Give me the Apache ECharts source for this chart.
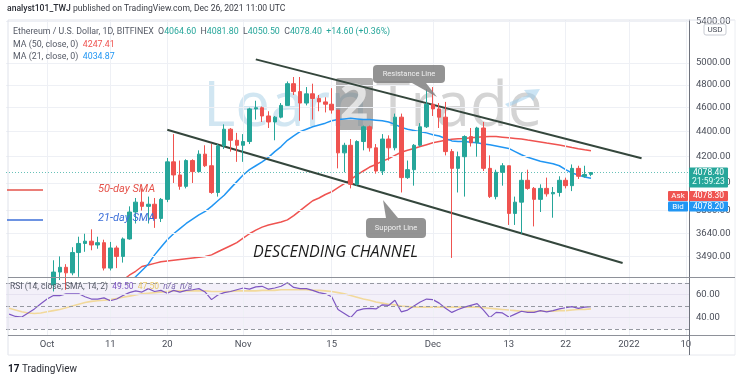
<!DOCTYPE html>
<html><head><meta charset="utf-8">
<script src="https://cdn.jsdelivr.net/npm/echarts@6/dist/echarts.min.js"></script>
<style>html,body{margin:0;padding:0;background:#fff}#c{width:740px;height:379px}</style>
</head><body><div id="c"></div>
<script>
// ---------- data ----------
const startDate = Date.UTC(2021, 8, 25);   // 2021-09-25
const dayCount = 108;                       // through 2022-01-10
const dates = [];
for (let i = 0; i < dayCount; i++) {
  dates.push(new Date(startDate + i * 86400000).toISOString().slice(0, 10));
}
const dateTickLabels = {
  '2021-10-01': 'Oct', '2021-10-11': '11', '2021-10-20': '20', '2021-11-01': 'Nov',
  '2021-11-15': '15', '2021-12-01': 'Dec', '2021-12-13': '13', '2021-12-22': '22',
  '2022-01-01': '2022', '2022-01-10': '10'
};
const opens = [2930,2925,3060,2930,2810,2850,3000,3310,3390,3420,
  3385,3515,3575,3590,3565,3580,3415,3545,3490,3605,
  3790,3860,3830,3845,3745,3880,4160,4060,3975,4170,
  4085,4220,4130,3930,4285,4420,4330,4290,4320,4590,
  4600,4530,4480,4520,4620,4810,4740,4640,4720,4680,
  4650,4630,4580,4230,4290,3990,4320,4440,4270,4090,
  4340,4270,4520,4040,4100,4290,4440,4630,4590,4520,
  4240,4110,4200,4360,4310,4430,4110,3900,4080,4130,
  3780,3860,4020,3960,3880,3960,3920,3930,4020,3980,
  4110,4050,4064.6];
const highs = [2970,3110,3160,3060,2960,3040,3350,3465,3490,3440,
  3550,3620,3640,3670,3620,3600,3585,3560,3615,3830,
  3890,3960,3900,3890,3890,4190,4380,4170,4180,4180,
  4250,4290,4300,4300,4460,4430,4390,4380,4600,4660,
  4610,4570,4530,4640,4830,4870,4870,4780,4810,4710,
  4690,4770,4580,4310,4340,4330,4450,4450,4300,4380,
  4370,4550,4550,4170,4300,4470,4760,4780,4640,4650,
  4260,4240,4370,4430,4440,4480,4210,4100,4150,4130,
  3900,4080,4100,3970,3990,4040,3970,4050,4040,4140,
  4130,4130,4081.8];
const lows = [2870,2740,2930,2800,2790,2840,2980,3270,3340,3280,
  3370,3360,3520,3530,3540,3400,3400,3415,3450,3600,
  3710,3800,3710,3680,3720,3860,4000,3950,3960,4000,
  4080,4120,3920,3900,4260,4240,4160,4160,4300,4500,
  4480,4430,4330,4510,4620,4710,4490,4620,4500,4570,
  4560,4550,4110,4080,3960,3980,4250,4240,4070,4060,
  4170,4250,3930,4030,3980,4280,4430,4530,4430,4210,
  3480,3930,3900,4280,4200,4090,3890,3880,3980,3700,
  3700,3640,3950,3690,3790,3900,3750,3900,3960,3940,
  4030,4040,4050.5];
const closes = [2925,3060,2930,2810,2850,3000,3310,3390,3420,3385,
  3515,3575,3590,3565,3580,3415,3545,3490,3605,3790,
  3860,3830,3845,3745,3880,4160,4060,3975,4170,4085,
  4220,4130,3930,4285,4420,4330,4290,4320,4590,4600,
  4530,4480,4520,4620,4810,4740,4640,4720,4680,4650,
  4630,4580,4230,4290,3990,4320,4440,4270,4090,4340,
  4270,4520,4040,4100,4290,4440,4630,4590,4520,4240,
  4110,4200,4360,4310,4430,4110,3900,4080,4130,3780,
  3860,4020,3960,3880,3960,3920,3930,4020,3980,4110,
  4050,4063.8,4078.4];
const ma50 = [null,null,null,null,null,null,null,null,null,null,
  null,null,null,null,null,null,null,3300,3340,3370,
  3395,3425,3435,3445,3455,3460,3465,3470,3475,3480,
  3485,3490,3500,3520,3540,3560,3580,3610,3640,3665,
  3685,3700,3710,3720,3735,3765,3800,3835,3870,3890,
  3915,3935,3965,3995,4025,4060,4090,4120,4140,4165,
  4185,4210,4235,4250,4265,4280,4295,4310,4320,4330,
  4338,4342,4345,4350,4355,4358,4360,4360,4355,4350,
  4345,4340,4332,4325,4317,4308,4300,4292,4283,4272,
  4263,4255,4247.41];
const ma21 = [null,null,null,null,null,null,null,null,null,null,
  null,null,null,null,null,null,null,3260,3290,3325,
  3360,3400,3440,3500,3550,3600,3640,3675,3710,3740,
  3770,3795,3830,3870,3910,3960,4010,4060,4100,4130,
  4160,4195,4240,4280,4330,4365,4400,4420,4440,4455,
  4470,4490,4500,4505,4510,4505,4500,4500,4495,4490,
  4480,4460,4435,4420,4410,4400,4390,4375,4365,4345,
  4325,4320,4320,4315,4310,4300,4295,4285,4275,4265,
  4240,4215,4195,4180,4165,4155,4145,4130,4100,4075,
  4060,4045,4034.87];
const rsi = [43,41,40.5,44,47.5,52,56,59,59,60.5,
  60.5,60.5,58,56,56,57,54.5,56,59,61.5,
  63,62,65,62.5,63.5,61,63.5,62,63.5,64,
  65,62,55.5,59.5,61.5,62.5,64,65.5,64.5,66.5,
  67,64.5,65.5,67,70,66,65,65,63.5,61.5,
  60.5,58,47,43.5,40,46,47.5,48,47.5,51,
  50.5,55,45,46.5,50,53.5,56,55.5,52.5,48,
  44.5,47,49,50.5,52,46.5,40,44.5,44,40.5,
  43,45.5,44.5,44.5,46,45,46,47.5,48.5,49.5,
  48,49,49.5];
const rsiSma = [48,46.5,45,44,43.5,44,45,46,47,48.5,
  50,51.5,53,54,54.5,55,55.5,56.5,57.5,58.5,
  59.5,60.5,61,61.5,62,62.5,63,63,63,63,
  63,63,62.5,62.5,62.5,62.5,63,63,63,63,
  63.5,63.5,63.5,64,64,64,64,64,63.5,63.5,
  63,62.5,61.5,60.5,59,57.5,56,55,53.5,52.5,
  51.5,51,50,49.5,49,49,49,49,49,49,
  49,49,49,49,49,48.5,48,47.5,47,46.5,
  46,45.5,45.5,45.5,45.5,45.5,45.5,46,46,46.5,
  47,47,47.5];
const priceTicks = [5400, 5000, 4800, 4600, 4400, 4200, 4000, 3800, 3640, 3490];
const rsiTicks = [60, 40];
const rsiBands = [70, 50, 30];
// channel endpoints [dateIndex, price]
const resistanceLine = [[39, 5032], [100, 4188]];
const supportLine = [[25, 4416], [97, 3447]];
const askPrice = 4078.30, bidPrice = 4078.20, countdown = '21:59:23';

// ---------- chart ----------
const chart = echarts.init(document.getElementById('c'), null, {renderer: 'canvas'});
const F = 'Roboto, "Noto Sans", sans-serif';
const last = closes.length - 1;
const candleData = opens.map((o, i) => [o, closes[i], lows[i], highs[i]]);
const tickDates = Object.keys(dateTickLabels);

chart.setOption({
  animation: false,
  textStyle: {fontFamily: F},
  grid: [
    {left: 6, right: 51, top: 20, height: 257},
    {left: 6, right: 51, top: 277, height: 58}
  ],
  xAxis: [
    {type: 'category', data: dates, gridIndex: 0, axisLine: {show: false}, axisTick: {show: false},
     axisLabel: {show: false}, splitLine: {show: false}},
    {type: 'category', data: dates, gridIndex: 1, axisLine: {show: false}, axisTick: {show: false},
     splitLine: {show: false},
     axisLabel: {interval: (i, v) => v in dateTickLabels, formatter: v => dateTickLabels[v] || '',
                 color: '#4a4e59', fontSize: 9.5, margin: 5, fontFamily: F}}
  ],
  yAxis: [
    {type: 'log', gridIndex: 0, position: 'right', min: 3359, max: 5414,
     axisLine: {show: true, lineStyle: {color: '#6f737d'}}, axisTick: {show: false},
     splitLine: {show: false},
     axisLabel: {customValues: priceTicks, formatter: v => Number(v).toFixed(2), color: '#4a4e59',
                 fontSize: 9.5, margin: 7, fontFamily: F, showMinLabel: true, showMaxLabel: true}},
    {type: 'value', gridIndex: 1, position: 'right', min: 25, max: 75,
     axisLine: {show: true, lineStyle: {color: '#6f737d'}}, axisTick: {show: false},
     splitLine: {show: false},
     axisLabel: {customValues: rsiTicks, formatter: v => Number(v).toFixed(2), color: '#4a4e59',
                 fontSize: 9.5, margin: 7, fontFamily: F}}
  ],
  series: [
    {type: 'line', xAxisIndex: 0, yAxisIndex: 0, data: [], z: 1, silent: true,
     markLine: {silent: true, symbol: 'none', label: {show: false}, animation: false,
       lineStyle: {color: '#eef0f5', width: 1, type: 'solid'},
       data: tickDates.map(d => ({xAxis: d})).concat(priceTicks.map(p => ({yAxis: p})))}},
    {type: 'line', xAxisIndex: 1, yAxisIndex: 1, data: [], z: 1, silent: true,
     markArea: {silent: true, itemStyle: {color: 'rgba(126,87,194,0.09)'},
       data: [[{yAxis: rsiBands[2]}, {yAxis: rsiBands[0]}]]},
     markLine: {silent: true, symbol: 'none', label: {show: false}, animation: false,
       data: tickDates.map(d => ({xAxis: d, lineStyle: {color: '#eef0f5', width: 1, type: 'solid'}}))
         .concat(rsiTicks.map(v => ({yAxis: v, lineStyle: {color: '#e6e2f0', width: 1, type: 'solid'}})))
         .concat(rsiBands.map(v => ({yAxis: v, lineStyle: {color: '#9598a1', width: 1, type: [4, 3]}})))}},
    {name: 'ETHUSD', type: 'candlestick', xAxisIndex: 0, yAxisIndex: 0, data: candleData, z: 5,
     barWidth: 4,
     itemStyle: {color: '#26a69a', color0: '#ef5350', borderColor: '#26a69a', borderColor0: '#ef5350', borderWidth: 1},
     markLine: {silent: true, symbol: 'none', label: {show: false}, animation: false,
       data: [{yAxis: closes[last], lineStyle: {color: '#26a69a', width: 1, type: [1, 2], opacity: 0.7}}]}},
    {name: 'MA50', type: 'line', xAxisIndex: 0, yAxisIndex: 0, data: ma50, z: 4, symbol: 'none',
     lineStyle: {color: '#ef5350', width: 1.5}},
    {name: 'MA21', type: 'line', xAxisIndex: 0, yAxisIndex: 0, data: ma21, z: 4, symbol: 'none',
     lineStyle: {color: '#2196f3', width: 1.5}},
    {type: 'line', xAxisIndex: 0, yAxisIndex: 0, data: [], z: 6, silent: true,
     markLine: {silent: true, symbol: 'none', label: {show: false}, animation: false,
       lineStyle: {color: '#34463c', width: 2, type: 'solid'},
       data: [resistanceLine, supportLine].map(seg => seg.map(p => ({coord: [dates[p[0]], p[1]]})))}},
    {name: 'RSI SMA', type: 'line', xAxisIndex: 1, yAxisIndex: 1, data: rsiSma, z: 3, symbol: 'none',
     lineStyle: {color: '#f2d99b', width: 1.6}},
    {name: 'RSI', type: 'line', xAxisIndex: 1, yAxisIndex: 1, data: rsi, z: 4, symbol: 'none',
     lineStyle: {color: '#7e57c2', width: 1.2}}
  ]
});

const y0 = chart.convertToPixel({yAxisIndex: 0}, closes[last]);
const chg = closes[last] - closes[last - 1];
const pct = chg / closes[last - 1] * 100;
const fx = v => v.toFixed(2);
const G = '#26a69a';

const els = [
  // watermark
  {type: 'text', z: -5, silent: true, style: {text: 'Learn', x: 203, y: 108, fill: 'rgba(178,214,234,0.6)',
     font: '500 62px "Open Sans", sans-serif', textVerticalAlign: 'middle'}},
  {type: 'rect', z: -5, silent: true, shape: {x: 336, y: 78, width: 37, height: 52, r: 2}, style: {fill: 'rgba(110,110,110,0.55)'}},
  {type: 'text', z: -5, silent: true, style: {text: '2', x: 354, y: 106, fill: 'rgba(235,235,235,0.85)',
     font: 'bold 50px "Open Sans", sans-serif', textAlign: 'center', textVerticalAlign: 'middle'}},
  {type: 'text', z: -5, silent: true, style: {text: 'Trade', x: 376, y: 108, fill: 'rgba(160,160,160,0.45)',
     font: '500 62px "Open Sans", sans-serif', textVerticalAlign: 'middle'}},
  {type: 'polygon', z: -5, silent: true, shape: {points: [[505, 104], [528, 95], [524, 90], [540, 89], [533, 101], [530, 97], [508, 107]]},
     style: {fill: 'rgba(160,205,235,0.55)'}},
  // frame
  {type: 'line', z: 50, silent: true, shape: {x1: 8, y1: 20, x2: 735, y2: 20}, style: {stroke: '#dfe2ea', lineWidth: 1}},
  {type: 'line', z: 50, silent: true, shape: {x1: 8, y1: 20, x2: 8, y2: 355}, style: {stroke: '#dfe2ea', lineWidth: 1}},
  {type: 'line', z: 50, silent: true, shape: {x1: 735, y1: 20, x2: 735, y2: 355}, style: {stroke: '#eceef2', lineWidth: 1}},
  {type: 'line', z: 50, silent: true, shape: {x1: 8, y1: 355, x2: 735, y2: 355}, style: {stroke: '#e6e8ee', lineWidth: 1}},
  {type: 'line', z: 50, silent: true, shape: {x1: 8, y1: 277.5, x2: 735, y2: 277.5}, style: {stroke: '#8e9199', lineWidth: 1.2}},
  {type: 'line', z: 50, silent: true, shape: {x1: 8, y1: 335.5, x2: 735, y2: 335.5}, style: {stroke: '#8e9199', lineWidth: 1.2}},
  {type: 'line', z: 50, silent: true, shape: {x1: 689.5, y1: 335, x2: 689.5, y2: 355}, style: {stroke: '#6f737d', lineWidth: 1}},
  // header
  {type: 'text', z: 50, style: {x: 7, y: 9, text: '{b|analyst101_TWJ} published on TradingView.com, Dec 26, 2021 11:00 UTC',
     font: '8.6px ' + F, fill: '#3a3d45', textVerticalAlign: 'middle',
     rich: {b: {font: '500 8.6px ' + F, fill: '#2a2d35'}}}},
  // legend
  {type: 'text', z: 50, style: {x: 13, y: 32, textVerticalAlign: 'middle', font: '8.8px ' + F, fill: '#555a66',
     text: 'Ethereum / U.S. Dollar, 1D, BITFINEX  O{g|' + fx(opens[last]) + '}  H{g|' + fx(highs[last]) +
       '}  L{g|' + fx(lows[last]) + '}  C{g|' + fx(closes[last]) + '}  {g|+' + fx(chg) + ' (+' + fx(pct) + '%)}',
     rich: {g: {fill: G, font: '8.8px ' + F}}}},
  {type: 'text', z: 50, style: {x: 13, y: 45, textVerticalAlign: 'middle', font: '8.8px ' + F, fill: '#555a66',
     text: 'MA (50, close, 0)  {r|' + fx(ma50[last]) + '}', rich: {r: {fill: '#ef5350', font: '8.8px ' + F}}}},
  {type: 'text', z: 50, style: {x: 13, y: 57, textVerticalAlign: 'middle', font: '8.8px ' + F, fill: '#555a66',
     text: 'MA (21, close, 0)  {b|' + fx(ma21[last]) + '}', rich: {b: {fill: '#2196f3', font: '8.8px ' + F}}}},
  // SMA labels
  {type: 'line', z: 50, shape: {x1: 7, y1: 190, x2: 43, y2: 190}, style: {stroke: '#e5534b', lineWidth: 1.5}},
  {type: 'line', z: 50, shape: {x1: 7, y1: 220, x2: 43, y2: 220}, style: {stroke: '#3c6fd9', lineWidth: 1.5}},
  {type: 'text', z: 50, style: {x: 98, y: 189, text: '50-day SMA', fill: '#e5534b', font: 'italic 11px ' + F, textVerticalAlign: 'middle'}},
  {type: 'text', z: 50, style: {x: 98, y: 218, text: '21-day SMA', fill: '#3c6fd9', font: 'italic 11px ' + F, textVerticalAlign: 'middle'}},
  // DESCENDING CHANNEL
  {type: 'text', z: 50, style: {x: 253, y: 252, text: 'DESCENDING CHANNEL', fill: '#1c1c1c', font: 'italic 16px "Open Sans", sans-serif', textVerticalAlign: 'middle'}},
  // Resistance Line callout
  {type: 'polygon', z: 40, shape: {points: [[412, 83], [426, 83], [437, 97]]}, style: {fill: 'rgba(128,128,128,0.85)'}},
  {type: 'rect', z: 40, shape: {x: 373, y: 65, width: 72, height: 18, r: 4}, style: {fill: 'rgba(128,128,128,0.85)'}},
  {type: 'text', z: 41, style: {x: 409, y: 74, text: 'Resistance Line', fill: '#f0f0f0', font: '7.5px ' + F, textAlign: 'center', textVerticalAlign: 'middle'}},
  // Support Line callout
  {type: 'polygon', z: 40, shape: {points: [[386, 218], [398, 218], [383, 200]]}, style: {fill: 'rgba(128,128,128,0.85)'}},
  {type: 'rect', z: 40, shape: {x: 366, y: 218, width: 60, height: 20, r: 4}, style: {fill: 'rgba(128,128,128,0.85)'}},
  {type: 'text', z: 41, style: {x: 396, y: 228, text: 'Support Line', fill: '#f0f0f0', font: '7.5px ' + F, textAlign: 'center', textVerticalAlign: 'middle'}},
  // USD box
  {type: 'rect', z: 60, shape: {x: 704, y: 24, width: 22, height: 11, r: 2}, style: {fill: '#fff', stroke: '#c8cbd3', lineWidth: 1}},
  {type: 'text', z: 61, style: {x: 715, y: 29.5, text: 'USD', fill: '#4a4e59', font: '8px ' + F, textAlign: 'center', textVerticalAlign: 'middle'}},
  // price tags
  {type: 'rect', z: 60, shape: {x: 689, y: y0 - 5, width: 39, height: 20, r: 1}, style: {fill: G}},
  {type: 'text', z: 61, style: {x: 708.5, y: y0, text: fx(closes[last]), fill: '#fff', font: '8.5px ' + F, textAlign: 'center', textVerticalAlign: 'middle'}},
  {type: 'text', z: 61, style: {x: 708.5, y: y0 + 9.5, text: countdown, fill: '#e6fff9', font: '8.5px ' + F, textAlign: 'center', textVerticalAlign: 'middle'}},
  {type: 'rect', z: 60, shape: {x: 668, y: y0 + 18.5, width: 20, height: 10, r: 1}, style: {fill: '#ef5350'}},
  {type: 'text', z: 61, style: {x: 678, y: y0 + 23.5, text: 'Ask', fill: '#fff', font: '8px ' + F, textAlign: 'center', textVerticalAlign: 'middle'}},
  {type: 'rect', z: 60, shape: {x: 689, y: y0 + 18.5, width: 39, height: 10, r: 1}, style: {fill: '#ef5350'}},
  {type: 'text', z: 61, style: {x: 708.5, y: y0 + 23.5, text: fx(askPrice), fill: '#fff', font: '8.5px ' + F, textAlign: 'center', textVerticalAlign: 'middle'}},
  {type: 'rect', z: 60, shape: {x: 668, y: y0 + 29, width: 20, height: 10, r: 1}, style: {fill: '#2196f3'}},
  {type: 'text', z: 61, style: {x: 678, y: y0 + 34, text: 'Bid', fill: '#fff', font: '8px ' + F, textAlign: 'center', textVerticalAlign: 'middle'}},
  {type: 'rect', z: 60, shape: {x: 689, y: y0 + 29, width: 39, height: 10, r: 1}, style: {fill: '#2196f3'}},
  {type: 'text', z: 61, style: {x: 708.5, y: y0 + 34, text: fx(bidPrice), fill: '#fff', font: '8.5px ' + F, textAlign: 'center', textVerticalAlign: 'middle'}},
  // RSI legend
  {type: 'text', z: 50, style: {x: 10, y: 287, textVerticalAlign: 'middle', font: '8.5px ' + F, fill: '#555a66',
     text: 'RSI (14, close, SMA, 14, 2)  {p|' + fx(rsi[last]) + '}  {y|' + fx(rsiSma[last]) + '}  {n|n/a  n/a}',
     rich: {p: {fill: '#7e57c2', font: '8.5px ' + F}, y: {fill: '#e8c96a', font: '8.5px ' + F}, n: {fill: '#7e6ab0', font: 'italic 8.5px ' + F}}}},
  // TradingView footer
  {type: 'text', z: 50, style: {x: 8, y: 369, text: '{l|17} TradingView', fill: '#2a2d35', font: '10px ' + F, textVerticalAlign: 'middle',
     rich: {l: {font: 'bold 10px ' + F, fill: '#131722'}}}}
];
chart.setOption({graphic: {elements: els}});
</script>
</body></html>
